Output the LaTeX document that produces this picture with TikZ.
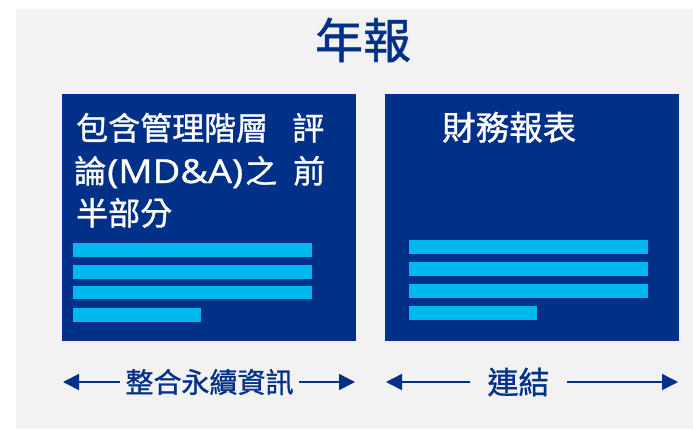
\documentclass[tikz,border=0pt]{standalone}
\usepackage{fontspec}
\setmainfont[FakeBold=1]{Noto Sans CJK TC}
\newfontfamily\latinfont[FakeBold=1]{Open Sans}
\usetikzlibrary{arrows.meta}
\definecolor{dkblue}{HTML}{003087}
\definecolor{ltblue}{HTML}{00B8F0}
\definecolor{bggray}{HTML}{F2F2F2}
\begin{document}
\begin{tikzpicture}[x=1pt,y=-1pt,
  panel/.style={fill=dkblue,draw=none,minimum width=294pt,minimum height=247pt,anchor=north west,inner sep=0pt},
  bar/.style={fill=ltblue,draw=none,minimum height=13.5pt,anchor=north west,inner sep=0pt},
  wtext/.style={text=white,anchor=base west,inner sep=0pt},
  btext/.style={text=dkblue,inner ysep=0pt},
  dblarrow/.style={draw=dkblue,line width=1.6pt,-{Triangle[length=16pt,width=16pt]}}
]
\useasboundingbox (0,0) rectangle (693,429);
\fill[bggray] (16,9) rectangle (693,429);
% title
\node[text=dkblue,font=\fontsize{48}{48}\selectfont,inner sep=0pt] (title) at (363,40) {年報};
% panels
\node[panel] (lbox) at (62,94) {};
\node[panel] (rbox) at (385,94) {};
% left panel text
\node[wtext,font=\fontsize{32}{32}\selectfont] (l1) at (76,140) {\makebox[248pt][l]{包含管理階層\hfill 評}};
\node[wtext,font=\fontsize{32}{32}\selectfont] (l2) at (74,183) {\makebox[251pt][l]{論\kern1pt\resizebox{136pt}{\height}{\latinfont\fontsize{33}{33}\selectfont(MD\&A)}\kern2pt 之\hfill 前}};
\node[wtext,font=\fontsize{32}{32}\selectfont] (l3) at (76,225) {半部分};
% right panel text
\node[wtext,font=\fontsize{33.5}{33.5}\selectfont] (r1) at (442,140) {財務報表};
% bars left
\node[bar,minimum width=239pt] (lb1) at (73,243) {};
\node[bar,minimum width=239pt] (lb2) at (73,265) {};
\node[bar,minimum width=239pt] (lb3) at (73,285.5) {};
\node[bar,minimum width=128pt] (lb4) at (73,308) {};
% bars right
\node[bar,minimum width=239pt] (rb1) at (409,240) {};
\node[bar,minimum width=239pt] (rb2) at (409,262) {};
\node[bar,minimum width=239pt] (rb3) at (409,284) {};
\node[bar,minimum width=128pt] (rb4) at (409,306) {};
% bottom labels and arrows
\node[btext,font=\fontsize{28}{28}\selectfont,inner xsep=5.5pt] (integ) at (209.5,382) {整合永續資訊};
\node[btext,font=\fontsize{31}{31}\selectfont,inner xsep=17.5pt] (link) at (518.5,382) {連結};
\coordinate (a1) at (63,382);
\coordinate (a2) at (355,382);
\coordinate (a3) at (386,382);
\coordinate (a4) at (678,382);
\draw[dblarrow] (integ.west) -- (a1);
\draw[dblarrow] (integ.east) -- (a2);
\draw[dblarrow] (link.west) -- (a3);
\draw[dblarrow] (link.east) -- (a4);
\end{tikzpicture}
\end{document}
